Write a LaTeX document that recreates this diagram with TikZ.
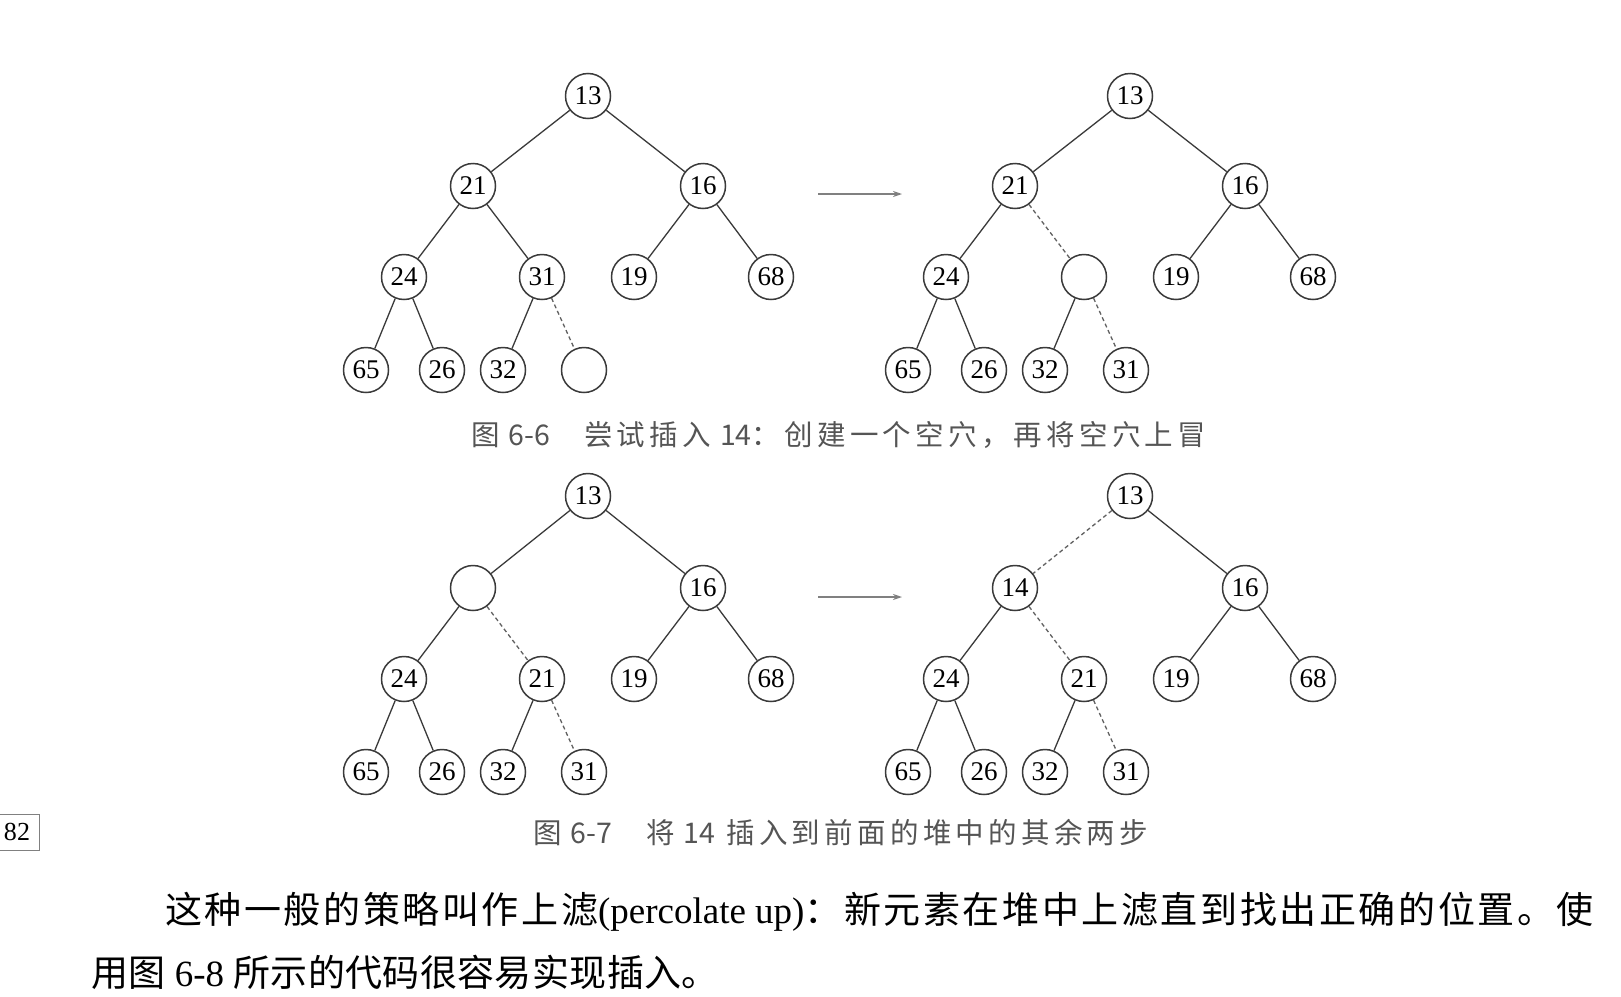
\documentclass[tikz,border=0pt]{standalone}
\usepackage{fontspec}
\setmainfont{Liberation Serif}
\newfontfamily\cjk{Noto Sans CJK SC}[LetterSpace=7]
\newfontfamily\cjkb{Noto Sans CJK SC}[LetterSpace=1]
\newfontfamily\cjkcap{Noto Sans CJK SC}[LetterSpace=15]
\newfontfamily\capdig{Noto Sans CJK SC}
\usetikzlibrary{arrows.meta}
\definecolor{edgecol}{HTML}{3A3A3A}
\definecolor{capcol}{HTML}{555555}
\tikzset{
  hn/.style={circle, draw=edgecol, line width=1.5pt, minimum size=45pt, inner sep=0pt, font=\fontsize{27}{27}\selectfont},
  ed/.style={draw=edgecol, line width=1.3pt},
  dd/.style={draw=edgecol!80, line width=1.3pt, dash pattern=on 4pt off 3pt},
  arr/.style={draw=gray, line width=1.3pt, -{Stealth[length=9pt,width=6pt]}},
  captext/.style={font=\cjkcap\fontsize{28.5}{28.5}\selectfont, text=capcol, anchor=west, inner sep=0pt},
  bodytext/.style={font=\fontsize{37}{37}\selectfont, anchor=west, inner sep=0pt},
  pbox/.style={draw=gray, line width=1pt, minimum width=44pt, minimum height=36pt, inner sep=0pt, font=\fontsize{26}{26}\selectfont},
}
\begin{document}
\begin{tikzpicture}[x=1pt,y=-1pt]
\useasboundingbox (0,0) rectangle (1621,996);
\fill[white] (0,0) rectangle (1621,996);

% Tree A (top-left)
\begin{scope}[shift={(588,96)}]
\node[hn] (a0) at (0,0) {13};
\node[hn] (a1) at (-115,90) {21};
\node[hn] (a2) at (115,90) {16};
\node[hn] (a3) at (-184,181) {24};
\node[hn] (a4) at (-46,181) {31};
\node[hn] (a5) at (46,181) {19};
\node[hn] (a6) at (183,181) {68};
\node[hn] (a7) at (-222,274) {65};
\node[hn] (a8) at (-146,274) {26};
\node[hn] (a9) at (-85,274) {32};
\node[hn] (a10) at (-4,274) {};
\draw[ed] (a0) -- (a1); \draw[ed] (a0) -- (a2);
\draw[ed] (a1) -- (a3); \draw[ed] (a1) -- (a4);
\draw[ed] (a2) -- (a5); \draw[ed] (a2) -- (a6);
\draw[ed] (a3) -- (a7); \draw[ed] (a3) -- (a8);
\draw[ed] (a4) -- (a9); \draw[dd] (a4) -- (a10);
\end{scope}

% Tree B (top-right)
\begin{scope}[shift={(1130,96)}]
\node[hn] (b0) at (0,0) {13};
\node[hn] (b1) at (-115,90) {21};
\node[hn] (b2) at (115,90) {16};
\node[hn] (b3) at (-184,181) {24};
\node[hn] (b4) at (-46,181) {};
\node[hn] (b5) at (46,181) {19};
\node[hn] (b6) at (183,181) {68};
\node[hn] (b7) at (-222,274) {65};
\node[hn] (b8) at (-146,274) {26};
\node[hn] (b9) at (-85,274) {32};
\node[hn] (b10) at (-4,274) {31};
\draw[ed] (b0) -- (b1); \draw[ed] (b0) -- (b2);
\draw[ed] (b1) -- (b3); \draw[dd] (b1) -- (b4);
\draw[ed] (b2) -- (b5); \draw[ed] (b2) -- (b6);
\draw[ed] (b3) -- (b7); \draw[ed] (b3) -- (b8);
\draw[ed] (b4) -- (b9); \draw[dd] (b4) -- (b10);
\end{scope}

% Tree C (bottom-left)
\begin{scope}[shift={(588,496)}]
\node[hn] (c0) at (0,0) {13};
\node[hn] (c1) at (-115,92) {};
\node[hn] (c2) at (115,92) {16};
\node[hn] (c3) at (-184,183) {24};
\node[hn] (c4) at (-46,183) {21};
\node[hn] (c5) at (46,183) {19};
\node[hn] (c6) at (183,183) {68};
\node[hn] (c7) at (-222,276) {65};
\node[hn] (c8) at (-146,276) {26};
\node[hn] (c9) at (-85,276) {32};
\node[hn] (c10) at (-4,276) {31};
\draw[ed] (c0) -- (c1); \draw[ed] (c0) -- (c2);
\draw[ed] (c1) -- (c3); \draw[dd] (c1) -- (c4);
\draw[ed] (c2) -- (c5); \draw[ed] (c2) -- (c6);
\draw[ed] (c3) -- (c7); \draw[ed] (c3) -- (c8);
\draw[ed] (c4) -- (c9); \draw[dd] (c4) -- (c10);
\end{scope}

% Tree D (bottom-right)
\begin{scope}[shift={(1130,496)}]
\node[hn] (d0) at (0,0) {13};
\node[hn] (d1) at (-115,92) {14};
\node[hn] (d2) at (115,92) {16};
\node[hn] (d3) at (-184,183) {24};
\node[hn] (d4) at (-46,183) {21};
\node[hn] (d5) at (46,183) {19};
\node[hn] (d6) at (183,183) {68};
\node[hn] (d7) at (-222,276) {65};
\node[hn] (d8) at (-146,276) {26};
\node[hn] (d9) at (-85,276) {32};
\node[hn] (d10) at (-4,276) {31};
\draw[dd] (d0) -- (d1); \draw[ed] (d0) -- (d2);
\draw[ed] (d1) -- (d3); \draw[dd] (d1) -- (d4);
\draw[ed] (d2) -- (d5); \draw[ed] (d2) -- (d6);
\draw[ed] (d3) -- (d7); \draw[ed] (d3) -- (d8);
\draw[ed] (d4) -- (d9); \draw[dd] (d4) -- (d10);
\end{scope}

% arrows
\coordinate (p1s) at (818,194); \coordinate (p1e) at (902,194);
\coordinate (p2s) at (818,597); \coordinate (p2e) at (902,597);
\draw[arr] (p1s) -- (p1e);
\draw[arr] (p2s) -- (p2e);

% captions
\node[captext] (cap1) at (471,435) {图\hspace{9pt}{\capdig 6-6}\hspace{34pt}尝试插入\hspace{9pt}{\capdig 14}：创建一个空穴，再将空穴上冒};
\node[captext] (cap2) at (533,833) {图\hspace{9pt}{\capdig 6-7}\hspace{34pt}将\hspace{9pt}{\capdig 14}\hspace{11pt}插入到前面的堆中的其余两步};

% page number box
\node[pbox] (pg) at (17,832) {82};

% body text
\node[bodytext] (t1) at (165,912) {{\cjk 这种一般的策略叫作上滤}(percolate up){\cjk ：新元素在堆中上滤直到找出正确的位置。使}};
\node[bodytext] (t2) at (91,972) {{\cjkb 用图} 6-8 {\cjkb 所示的代码很容易实现插入。}};
\end{tikzpicture}
\end{document}
